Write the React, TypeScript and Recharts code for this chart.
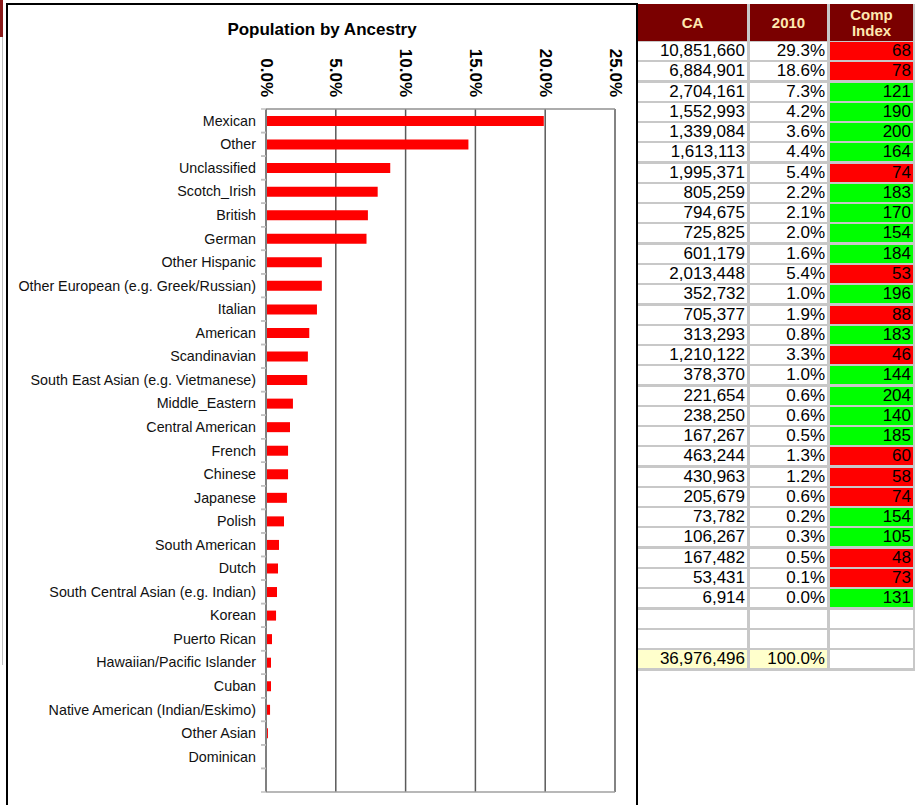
import { BarChart, Bar, XAxis, YAxis, CartesianGrid } from "recharts";

const FONT = "'Liberation Sans', Arial, sans-serif";

// chart data
const categories = [
    "Mexican", "Other", "Unclassified", "Scotch_Irish", "British", "German",
    "Other Hispanic", "Other European (e.g. Greek/Russian)", "Italian", "American",
    "Scandinavian", "South East Asian (e.g. Vietmanese)", "Middle_Eastern",
    "Central American", "French", "Chinese", "Japanese", "Polish", "South American",
    "Dutch", "South Central Asian (e.g. Indian)", "Korean", "Puerto Rican",
    "Hawaiian/Pacific Islander", "Cuban", "Native American (Indian/Eskimo)",
    "Other Asian", "Dominican",
];
const shares = [
    19.9, 14.5, 8.9, 8.0, 7.3, 7.2, 4.0, 4.0, 3.65, 3.1, 3.0, 2.95, 1.93, 1.72,
    1.58, 1.58, 1.5, 1.29, 0.93, 0.86, 0.79, 0.72, 0.43, 0.36, 0.36, 0.29, 0.14, 0.07,
];
const xTicks = [0, 5, 10, 15, 20, 25];

// table data
const caPopulation = [
    10851660, 6884901, 2704161, 1552993, 1339084, 1613113, 1995371, 805259, 794675,
    725825, 601179, 2013448, 352732, 705377, 313293, 1210122, 378370, 221654, 238250,
    167267, 463244, 430963, 205679, 73782, 106267, 167482, 53431, 6914,
];
const pct2010 = [
    29.3, 18.6, 7.3, 4.2, 3.6, 4.4, 5.4, 2.2, 2.1, 2.0, 1.6, 5.4, 1.0, 1.9, 0.8, 3.3,
    1.0, 0.6, 0.6, 0.5, 1.3, 1.2, 0.6, 0.2, 0.3, 0.5, 0.1, 0.0,
];
const compIndex = [
    68, 78, 121, 190, 200, 164, 74, 183, 170, 154, 184, 53, 196, 88, 183, 46, 144, 204,
    140, 185, 60, 58, 74, 154, 105, 48, 73, 131,
];
const caTotal = 36976496;
const pctTotal = 100.0;

const rows: { name: string; share: number | null }[] = categories
    .map((name, i) => ({ name, share: shares[i] }))
    .concat([{ name: " ", share: null }]);

const CHART_W = 640;
const CHART_H = 805;
const MARGIN = { top: 49, right: 25, bottom: 5, left: 0 };
const TOP_AXIS_H = 60;
const BOTTOM_AXIS_H = 8;
const PLOT_H = CHART_H - MARGIN.top - MARGIN.bottom - TOP_AXIS_H - BOTTOM_AXIS_H;
const BAND = PLOT_H / rows.length;

const pctLabel = (v: number) => v.toFixed(1) + "%";

function TopTick(props: any) {
    const { x, y, payload } = props;
    return (
        <text
            transform={`translate(${x},${y}) rotate(90)`}
            textAnchor="end"
            dominantBaseline="central"
            fontSize={17}
            fontWeight="bold"
            fontFamily={FONT}
            fill="#000"
        >
            {pctLabel(payload.value)}
        </text>
    );
}

function CategoryTick(props: any) {
    const { x, y, payload } = props;
    const label = String(payload.value).trim();
    return (
        <g>
            <line x1={x + 5} x2={x + 10} y1={y - BAND / 2} y2={y - BAND / 2} stroke="#c0c0c0" strokeWidth={1.5} />
            <line x1={x + 5} x2={x + 10} y1={y + BAND / 2} y2={y + BAND / 2} stroke="#c0c0c0" strokeWidth={1.5} />
            {label && (
                <text x={x} y={y} textAnchor="end" dominantBaseline="central" fontSize={14.3} fontFamily={FONT} fill="#111">
                    {label}
                </text>
            )}
        </g>
    );
}

const cols = [
    { left: 638, width: 109 },
    { left: 750, width: 77 },
    { left: 830, width: 83 },
];
const ROW_TOP = 42;
const ROW_PITCH = 20.27;
const CELL_H = 18;

function Cell({ row, col, text, bg }: { row: number; col: number; text: string; bg: string }) {
    return (
        <div
            style={{
                position: "absolute",
                left: cols[col].left,
                width: cols[col].width,
                top: ROW_TOP + row * ROW_PITCH,
                height: CELL_H,
                background: bg,
                fontFamily: FONT,
                fontSize: 17,
                lineHeight: CELL_H + "px",
                textAlign: "right",
                paddingRight: 2,
                boxSizing: "border-box",
                color: "#000",
                whiteSpace: "nowrap",
            }}
        >
            {text}
        </div>
    );
}

function AncestryTable() {
    const headerStyle = {
        position: "absolute" as const,
        top: 4,
        height: 37,
        background: "#7a0000",
        color: "#ffe8b0",
        fontFamily: FONT,
        fontWeight: "bold" as const,
        fontSize: 15,
        display: "flex",
        alignItems: "center",
        justifyContent: "center",
        textAlign: "center" as const,
        lineHeight: "16px",
    };
    const cells = [];
    for (let i = 0; i < caPopulation.length; i++) {
        cells.push(<Cell key={"a" + i} row={i} col={0} text={caPopulation[i].toLocaleString("en-US")} bg="#fff" />);
        cells.push(<Cell key={"b" + i} row={i} col={1} text={pctLabel(pct2010[i])} bg="#fff" />);
        cells.push(
            <Cell key={"c" + i} row={i} col={2} text={String(compIndex[i])} bg={compIndex[i] < 100 ? "#ff0000" : "#00ff00"} />
        );
    }
    const n = caPopulation.length;
    for (let r = n; r < n + 2; r++) {
        for (let c = 0; c < 3; c++) cells.push(<Cell key={`e${r}-${c}`} row={r} col={c} text="" bg="#fff" />);
    }
    cells.push(<Cell key="t0" row={n + 2} col={0} text={caTotal.toLocaleString("en-US")} bg="#ffffcc" />);
    cells.push(<Cell key="t1" row={n + 2} col={1} text={pctLabel(pctTotal)} bg="#ffffcc" />);
    cells.push(<Cell key="t2" row={n + 2} col={2} text="" bg="#fff" />);

    const bottom = ROW_TOP + (n + 3) * ROW_PITCH + 1;
    return (
        <>
            <div style={{ position: "absolute", left: 638, top: 4, width: 277, height: bottom - 4, background: "#c8c8c8" }} />
            <div style={{ ...headerStyle, left: cols[0].left, width: cols[0].width }}>CA</div>
            <div style={{ ...headerStyle, left: cols[1].left, width: cols[1].width }}>2010</div>
            <div style={{ ...headerStyle, left: cols[2].left, width: cols[2].width }}>
                Comp
                <br />
                Index
            </div>
            {cells}
        </>
    );
}

export default function App() {
    return (
        <div style={{ position: "absolute", left: 0, top: 0, width: 921, height: 805, overflow: "hidden", background: "#fff" }}>
            <div style={{ position: "absolute", left: 0, top: 0, width: 3, height: 37, background: "#8b1a1a" }} />
            <div style={{ position: "absolute", left: 2, top: 37, width: 1, height: 628, background: "#c0c0c0" }} />
            <div style={{ position: "absolute", left: 0, top: 0 }}>
                <BarChart width={CHART_W} height={CHART_H} data={rows} layout="vertical" margin={MARGIN}>
                    <CartesianGrid xAxisId="top" horizontal={false} stroke="#5a5a5a" strokeWidth={1.5} />
                    <XAxis
                        xAxisId="top"
                        orientation="top"
                        type="number"
                        domain={[0, 25]}
                        ticks={xTicks}
                        height={TOP_AXIS_H}
                        tickSize={0}
                        tickMargin={12}
                        tickLine={false}
                        axisLine={{ stroke: "#909090", strokeWidth: 1.5 }}
                        tick={<TopTick />}
                        interval={0}
                    />
                    <XAxis
                        xAxisId="bottom"
                        orientation="bottom"
                        type="number"
                        domain={[0, 25]}
                        ticks={xTicks}
                        height={BOTTOM_AXIS_H}
                        tickSize={5}
                        tickLine={{ stroke: "#c0c0c0" }}
                        axisLine={{ stroke: "#a0a0a0", strokeWidth: 1.5 }}
                        tick={() => <g />}
                        interval={0}
                    />
                    <YAxis
                        type="category"
                        dataKey="name"
                        width={266}
                        interval={0}
                        tickSize={0}
                        tickMargin={10}
                        tickLine={false}
                        axisLine={{ stroke: "#808080", strokeWidth: 2 }}
                        tick={<CategoryTick />}
                    />
                    <Bar xAxisId="top" dataKey="share" fill="#ff0000" barSize={10} isAnimationActive={false} />
                </BarChart>
            </div>
            <div
                style={{
                    position: "absolute",
                    left: 6,
                    top: 20,
                    width: 632,
                    textAlign: "center",
                    fontFamily: FONT,
                    fontWeight: "bold",
                    fontSize: 17,
                    lineHeight: "20px",
                    color: "#000",
                }}
            >
                Population by Ancestry
            </div>
            <div
                style={{
                    position: "absolute",
                    left: 6,
                    top: 3,
                    width: 632,
                    height: 900,
                    border: "2px solid #000",
                    boxSizing: "border-box",
                    pointerEvents: "none",
                }}
            />
            <AncestryTable />
        </div>
    );
}
